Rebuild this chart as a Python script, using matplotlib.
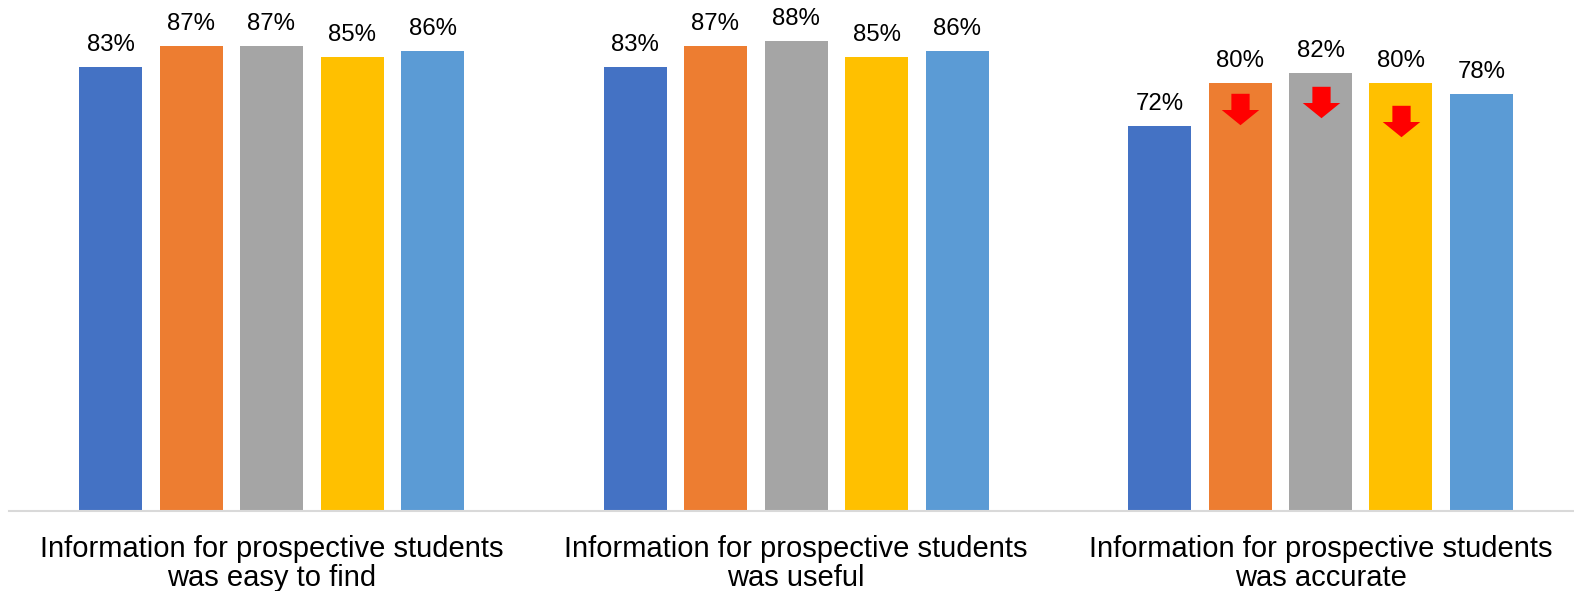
import matplotlib
matplotlib.use("Agg")
import matplotlib.pyplot as plt
from matplotlib.path import Path
from matplotlib.transforms import ScaledTranslation
import numpy as np

# Survey statements (x categories)
categories = [
    "Information for prospective students\nwas easy to find",
    "Information for prospective students\nwas useful",
    "Information for prospective students\nwas accurate",
]

# One list per series (five bars in each group)
series_1 = [83, 83, 72]
series_2 = [87, 87, 80]
series_3 = [87, 88, 82]
series_4 = [85, 85, 80]
series_5 = [86, 86, 78]

# Which bars carry a red "decline" arrow (series index, category index)
declines = [(1, 2), (2, 2), (3, 2)]

colors = ["#4472C4", "#ED7D31", "#A5A5A5", "#FFC000", "#5B9BD5"]


def main():
    plt.rcParams["font.family"] = ["Liberation Sans", "DejaVu Sans"]
    fig = plt.figure(figsize=(15.74, 5.91), dpi=100)
    ax = fig.add_axes([9 / 1574, 80.5 / 591, 1565 / 1574, 510.5 / 591])

    all_series = [series_1, series_2, series_3, series_4, series_5]
    x = np.arange(len(categories))
    step = 80.5 / 524.5
    width = 63 / 524.5

    for i, (vals, col) in enumerate(zip(all_series, colors)):
        pos = x + (i - 2) * step
        ax.bar(pos, vals, width=width, color=col, edgecolor="none", zorder=2)
        for px, v in zip(pos, vals):
            ax.annotate(f"{v}%", (px, v), xytext=(0, 11.5),
                        textcoords="offset points", ha="center",
                        va="baseline", fontsize=17.3, color="#000000")

    # block arrow marker pointing down
    arrow = Path([(-9, 15.5), (9, 15.5), (9, -0.5), (18.5, -0.5),
                  (0, -15.5), (-18.5, -0.5), (-9, -0.5), (-9, 15.5)],
                 [Path.MOVETO] + [Path.LINETO] * 6 + [Path.CLOSEPOLY])
    drop_pt = {1: 18.5, 2: 21.5, 3: 27.5}
    for si, ci in declines:
        v = all_series[si][ci]
        px = x[ci] + (si - 2) * step
        shift = ScaledTranslation(0, -drop_pt[si] / 72, fig.dpi_scale_trans)
        ax.plot(px, v, marker=arrow, markersize=27, color="#FF0000",
                markeredgewidth=0, linestyle="none", zorder=3,
                transform=ax.transData + shift)

    ax.set_xlim(-262.5 / 524.5, 2 + 253.5 / 524.5)
    ax.set_ylim(0, 510.5 / 5.34)
    ax.set_xticks(x)
    ax.set_xticklabels(categories, fontsize=21, linespacing=1.04,
                       color="#000000")
    ax.tick_params(axis="x", length=0, pad=17.5)
    ax.set_yticks([])
    for side in ["top", "left", "right"]:
        ax.spines[side].set_visible(False)
    ax.spines["bottom"].set_color("#D9D9D9")
    ax.spines["bottom"].set_linewidth(1.5)
    ax.patch.set_alpha(0)

    fig.savefig("out.png", dpi=100)


if __name__ == "__main__":
    main()
